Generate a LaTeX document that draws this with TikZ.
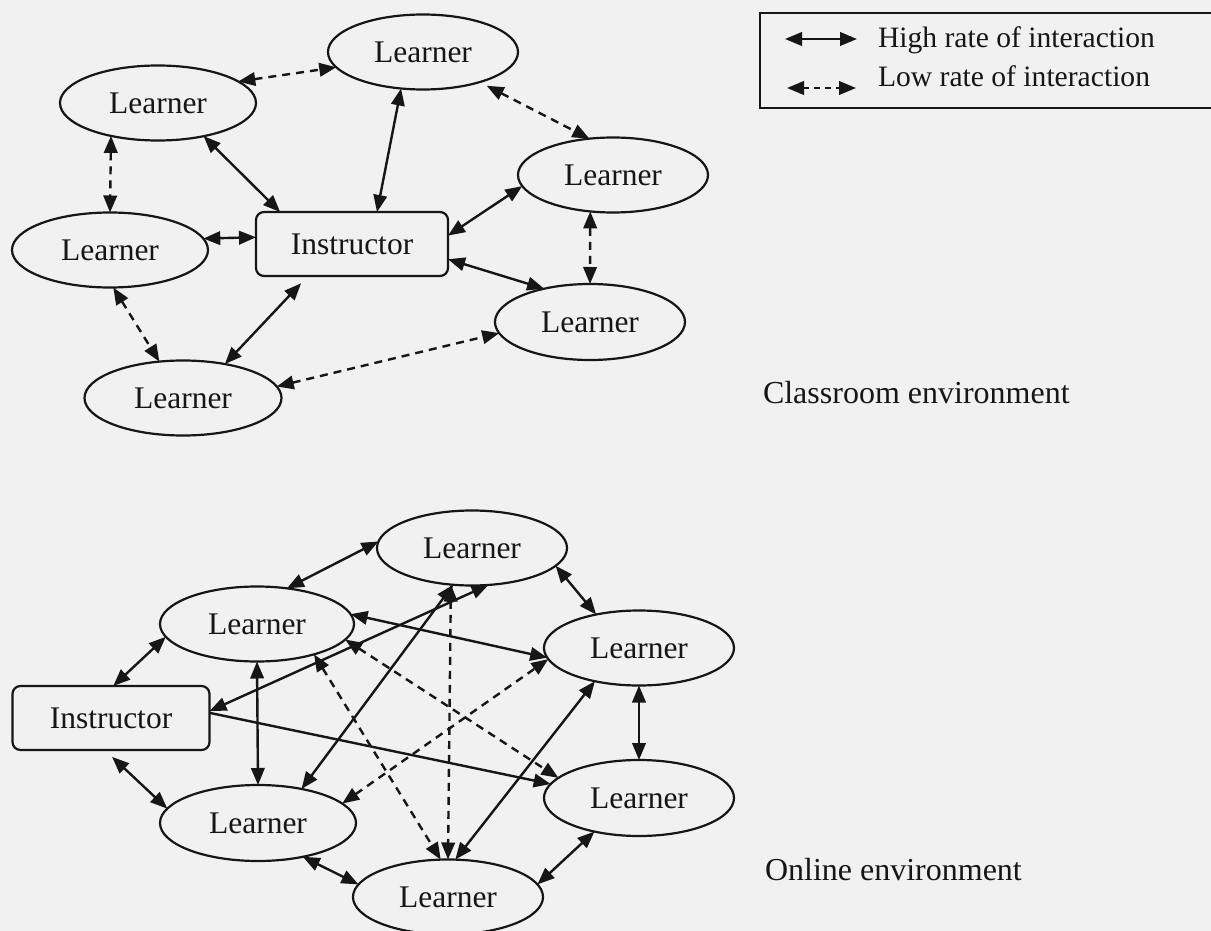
\documentclass[tikz,border=0pt]{standalone}
\usepackage{fontspec}
\setmainfont{Liberation Serif}
\usetikzlibrary{arrows.meta,shapes.geometric}
\definecolor{paper}{RGB}{241,241,241}
\definecolor{ink}{RGB}{22,22,22}

\begin{document}
\begin{tikzpicture}[x=1pt,y=-1pt,
  every node/.style={font=\fontsize{31.5}{38}\selectfont, text=ink},
  learner/.style={ellipse, draw=ink, line width=2.2pt, minimum width=190pt,
    minimum height=75pt, inner sep=0pt, outer sep=0pt},
  teacher/.style={rectangle, rounded corners=8pt, draw=ink, line width=2.2pt,
    minimum width=192pt, minimum height=64pt, inner sep=0pt, outer sep=0pt},
  tip/.tip={Triangle[length=17pt,width=13.5pt]},
  link/.style={draw=ink, line width=2.4pt, tip-tip},
  oneway/.style={draw=ink, line width=2.4pt, -tip},
  weak/.style={link, dash pattern=on 8pt off 6pt},
  plaintext/.style={anchor=base west, inner sep=0pt, outer sep=0pt},
  legendtext/.style={plaintext, font=\fontsize{29.6}{36}\selectfont},
  captiontext/.style={plaintext, font=\fontsize{32}{38}\selectfont}
]
% page
\fill[paper] (0,0) rectangle (1211,931);
\useasboundingbox (0,0) rectangle (1211,931);

% ---------- legend ----------
\draw[ink, line width=2.2pt] (760,13) rectangle (1222,108);
\coordinate (hiA) at (785,39);
\coordinate (hiB) at (857,39);
\coordinate (loA) at (787,88);
\coordinate (loB) at (856,88);
\draw[link] (hiA) -- (hiB);
\draw[weak, dash pattern=on 6pt off 5pt] (loA) -- (loB);
\node[legendtext] (hi) at (878,48) {High rate of interaction};
\node[legendtext] (lo) at (878,87) {Low rate of interaction};

% ---------- classroom environment ----------
\node[learner] (c1) at (423,52) {Learner};
\node[learner, minimum width=196pt] (c2) at (158,103) {Learner};
\node[learner, minimum width=196pt] (c3) at (110,250) {Learner};
\node[teacher] (ct) at (352,244) {Instructor};
\node[learner] (c4) at (613,175) {Learner};
\node[learner, minimum height=76pt] (c5) at (590,322) {Learner};
\node[learner, minimum width=197pt] (c6) at (183,398) {Learner};

\draw[weak] (c2.15) -- (c1.190);
\draw[link] (c1.239) -- (ct.52);
\draw[weak, shorten <=8pt] (c1.-28) -- (c4.123);
\draw[link] (c2.-36) -- (ct.156);
\draw[weak] (c2.215) -- (c3.90);
\draw[link] (c3.7) -- (ct.176);
\draw[link] (c4.187) -- (ct.5);
\draw[weak] (c4.238) -- (c5.90);
\draw[link] (ct.-9) -- (c5.144);
\draw[weak] (c3.-85) -- (c6.123);
\draw[link, shorten <=10pt] (ct.216) -- (c6.39);
\draw[weak] (c6.7) -- (c5.187);

\node[captiontext] (cap1) at (763,403) {Classroom environment};

% ---------- online environment ----------
\node[learner] (o1) at (472,548) {Learner};
\node[learner, minimum width=194pt] (o2) at (257,624) {Learner};
\node[teacher, minimum width=197pt] (ot) at (111,718) {Instructor};
\node[learner] (o3) at (639,648) {Learner};
\node[learner, minimum height=76pt] (o4) at (639,798) {Learner};
\node[learner, minimum width=196pt, minimum height=76pt] (o5) at (258,823) {Learner};
\node[learner] (o6) at (448,897) {Learner};

\draw[link] (o2.50) -- (o1.176);
\draw[link] (ot.86) -- (o2.188);
\draw[link] (o2.south) -- (o5.north);
\draw[link] (ot.4) -- (o1.-66);
\draw[oneway] (ot.3) -- (o4.171);
\draw[link] (o2.6) -- (o3.186);
\draw[weak] (o2.-10) -- (o4.166);
\draw[weak] (o2.-28) -- (o6.101);
\draw[weak] (o5.13) -- (o3.187);
\draw[weak] (o1.240) -- (o6.90);
\draw[link] (o1.243) -- (o5.38);
\draw[link] (o3.217) -- (o6.79);
\draw[link] (o1.-12) -- (o3.142);
\draw[link] (o3.south) -- (o4.north);
\draw[link] (o4.217) -- (o6.8);
\draw[link] (o5.-37) -- (o6.172);
\draw[link, shorten <=10pt] (ot.259) -- (o5.171);

\node[captiontext] (cap2) at (765,880) {Online environment};
\end{tikzpicture}
\end{document}
